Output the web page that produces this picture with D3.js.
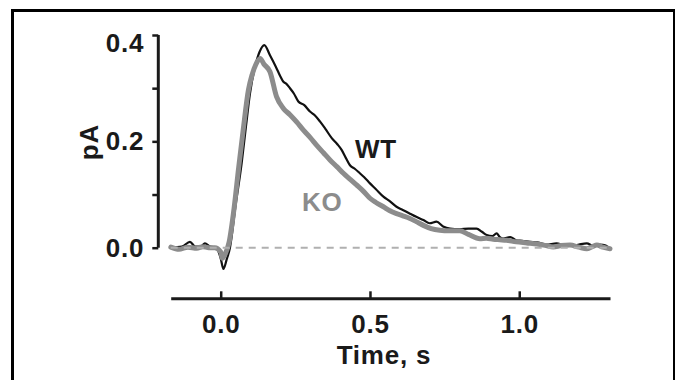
<!DOCTYPE html>
<html>
<head>
<meta charset="utf-8">
<script src="https://cdn.jsdelivr.net/npm/d3@7"></script>
<style>
  body { margin: 0; background: #fff; }
  text { font-family: "Liberation Sans", Arial, sans-serif; font-weight: bold; }
</style>
</head>
<body>
<svg id="chart" width="675" height="380"></svg>
<script>
// WT trace (time in s, current in pA)
const wtTime = [-0.167, -0.13, -0.103, -0.085, -0.065, -0.053, -0.035, -0.015, 0.0, 0.009, 0.02, 0.031,
  0.05, 0.07, 0.085, 0.098, 0.115, 0.13, 0.146, 0.165, 0.185, 0.2, 0.21, 0.22, 0.232, 0.245, 0.26,
  0.28, 0.299, 0.315, 0.333, 0.35, 0.372, 0.39, 0.405, 0.42, 0.433, 0.45, 0.466, 0.48, 0.5, 0.52,
  0.545, 0.565, 0.589, 0.61, 0.634, 0.655, 0.679, 0.7, 0.723, 0.745, 0.768, 0.8, 0.83, 0.857, 0.875,
  0.891, 0.91, 0.924, 0.935, 0.946, 0.97, 0.99, 1.01, 1.036, 1.06, 1.09, 1.125, 1.15, 1.18, 1.2,
  1.226, 1.25, 1.27, 1.29, 1.304];
const wtValues = [0.0, 0.002, 0.011, 0.002, 0.003, 0.008, 0.002, 0.0, -0.02, -0.04, -0.022, 0.0,
  0.08, 0.158, 0.23, 0.29, 0.34, 0.368, 0.381, 0.362, 0.34, 0.322, 0.312, 0.308, 0.3, 0.29, 0.275,
  0.268, 0.256, 0.249, 0.237, 0.224, 0.206, 0.195, 0.184, 0.168, 0.155, 0.148, 0.14, 0.133, 0.121, 0.11,
  0.096, 0.088, 0.077, 0.071, 0.064, 0.058, 0.052, 0.046, 0.049, 0.04, 0.036, 0.035, 0.036, 0.036, 0.03,
  0.024, 0.022, 0.027, 0.02, 0.017, 0.02, 0.014, 0.013, 0.011, 0.01, 0.006, 0.008, 0.005, 0.004, 0.006,
  0.008, 0.003, 0.006, 0.004, -0.002];

// KO trace
const koTime = [-0.167, -0.14, -0.11, -0.08, -0.06, -0.04, -0.02, 0.0, 0.005, 0.015, 0.028, 0.045,
  0.06, 0.075, 0.093, 0.105, 0.118, 0.132, 0.145, 0.165, 0.187, 0.21, 0.232, 0.255, 0.277, 0.3,
  0.321, 0.345, 0.366, 0.39, 0.411, 0.435, 0.455, 0.48, 0.5, 0.52, 0.545, 0.565, 0.589, 0.61, 0.634,
  0.655, 0.679, 0.705, 0.734, 0.765, 0.801, 0.83, 0.868, 0.89, 0.913, 0.935, 0.957, 0.99, 1.025,
  1.06, 1.09, 1.114, 1.14, 1.17, 1.2, 1.226, 1.245, 1.26, 1.28, 1.304];
const koValues = [0.001, -0.003, 0.001, -0.001, 0.002, 0.0, 0.0, -0.008, -0.02, -0.012, 0.01, 0.075,
  0.15, 0.22, 0.297, 0.325, 0.345, 0.356, 0.345, 0.331, 0.284, 0.262, 0.25, 0.236, 0.221, 0.207,
  0.193, 0.178, 0.165, 0.152, 0.14, 0.128, 0.118, 0.105, 0.093, 0.085, 0.077, 0.07, 0.064, 0.06, 0.055,
  0.049, 0.042, 0.036, 0.033, 0.032, 0.032, 0.025, 0.017, 0.018, 0.016, 0.015, 0.014, 0.011, 0.009,
  0.007, 0.004, 0.0015, 0.004, 0.005, 0.001, -0.002, 0.002, 0.005, 0.001, -0.002];

const xTicks = [0, 0.5, 1.0];
const yTicks = [0, 0.1, 0.2, 0.3, 0.4];
const yTickLabels = ["0.0", "", "0.2", "", "0.4"];

const svg = d3.select("#chart");

// frame round the figure panel (bottom edge runs off the picture)
svg.append("rect")
  .attr("x", 12.5).attr("y", 10.5)
  .attr("width", 662).attr("height", 420)
  .attr("fill", "none").attr("stroke", "#000").attr("stroke-width", 3);

const x = d3.scaleLinear().domain([-0.1675, 1.304]).range([170.7, 610]);
const y = d3.scaleLinear().domain([0, 0.4]).range([247.7, 35]);

const fontSize = 26;
const spacing = "0.8px";

// y axis
const yAxis = svg.append("g")
  .attr("transform", "translate(158.3,0)")
  .call(d3.axisLeft(y).tickValues(yTicks).tickSize(6).tickPadding(8)
    .tickFormat((d, i) => yTickLabels[i]));
yAxis.select(".domain").attr("d", `M0,${y(0)}V${y(0.4)}`);

// x axis, ticks pointing up into the plot
const xAxis = svg.append("g")
  .attr("transform", "translate(0,298.3)")
  .call(d3.axisBottom(x).tickValues(xTicks).tickSizeInner(-7).tickSizeOuter(0).tickPadding(16)
    .tickFormat(d3.format(".1f")));

svg.selectAll(".domain").attr("stroke", "#1a1a1a").attr("stroke-width", 3);
svg.selectAll(".tick line").attr("stroke", "#1a1a1a").attr("stroke-width", 2.5);
svg.selectAll(".tick text")
  .attr("fill", "#1a1a1a")
  .style("font-size", fontSize + "px")
  .style("font-family", "'Liberation Sans', Arial, sans-serif")
  .style("font-weight", "bold")
  .style("letter-spacing", spacing);
xAxis.selectAll(".tick text").attr("dy", "0.71em");
// top label sits a little below its tick in the original
yAxis.selectAll(".tick text").filter(d => d === 0.4).attr("dy", "0.62em");

// axis titles
svg.append("text")
  .attr("x", 384).attr("y", 364)
  .attr("text-anchor", "middle")
  .attr("fill", "#1a1a1a")
  .style("font-size", fontSize + "px")
  .style("letter-spacing", spacing)
  .text("Time, s");

svg.append("text")
  .attr("transform", "translate(98,142) rotate(-90)")
  .attr("text-anchor", "middle")
  .attr("fill", "#1a1a1a")
  .style("font-size", fontSize + "px")
  .style("letter-spacing", spacing)
  .text("pA");

const line = d3.line().x(d => x(d[0])).y(d => y(d[1])).curve(d3.curveMonotoneX);

svg.append("path")
  .datum(d3.zip(wtTime, wtValues))
  .attr("fill", "none")
  .attr("stroke", "#111")
  .attr("stroke-width", 2.2)
  .attr("stroke-linejoin", "round")
  .attr("d", line);

svg.append("path")
  .datum(d3.zip(koTime, koValues))
  .attr("fill", "none")
  .attr("stroke", "#8c8c8c")
  .attr("stroke-width", 5)
  .attr("stroke-linejoin", "round")
  .attr("stroke-linecap", "round")
  .attr("d", line);

// zero baseline
svg.append("line")
  .attr("x1", x(-0.1675)).attr("x2", x(1.304))
  .attr("y1", y(0)).attr("y2", y(0))
  .attr("stroke", "#b0b0b0")
  .attr("stroke-width", 2)
  .attr("stroke-dasharray", "7,6");

// series labels
svg.append("text")
  .attr("x", 355).attr("y", 158)
  .attr("fill", "#1a1a1a")
  .style("font-size", fontSize + "px")
  .style("letter-spacing", spacing)
  .text("WT");

svg.append("text")
  .attr("x", 302).attr("y", 211)
  .attr("fill", "#8c8c8c")
  .style("font-size", fontSize + "px")
  .style("letter-spacing", spacing)
  .text("KO");
</script>
</body>
</html>
